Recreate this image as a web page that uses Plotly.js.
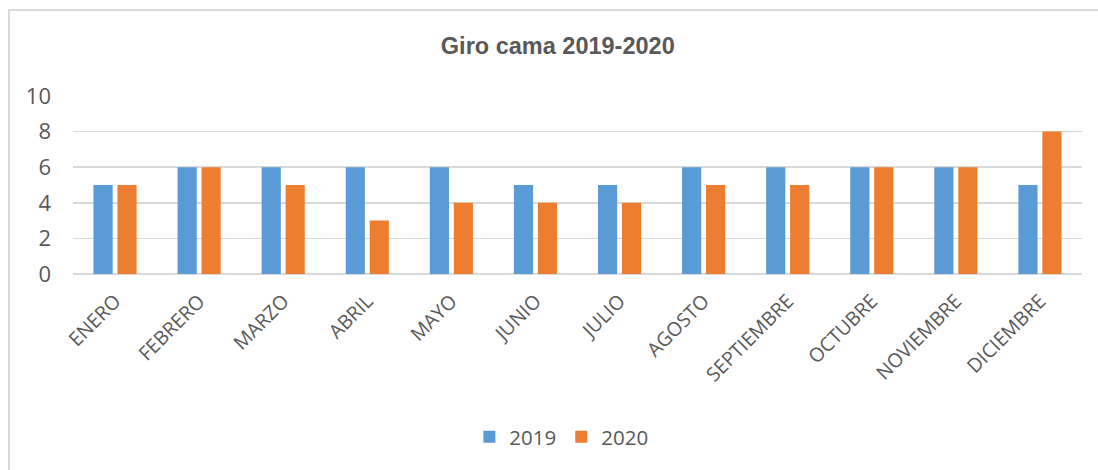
<!DOCTYPE html>
<html>
<head>
<meta charset="utf-8">
<script src="https://cdn.plot.ly/plotly-3.0.1.min.js"></script>
<style>
  html, body { margin: 0; padding: 0; background: #ffffff; overflow: hidden; }
  #frame { position: absolute; left: 8px; top: 9px; width: 1200px; height: 600px;
           border-left: 2px solid #d9d9d9; border-top: 2px solid #d9d9d9; }
  #chart { position: absolute; left: 0; top: 0; width: 1098px; height: 470px; }
</style>
</head>
<body>
<div id="frame"></div>
<div id="chart"></div>
<script>
const months = ["ENERO", "FEBRERO", "MARZO", "ABRIL", "MAYO", "JUNIO", "JULIO",
                "AGOSTO", "SEPTIEMBRE", "OCTUBRE", "NOVIEMBRE", "DICIEMBRE"];
const values2019 = [5, 6, 6, 6, 6, 5, 5, 6, 6, 6, 6, 5];
const values2020 = [5, 6, 5, 3, 4, 4, 4, 5, 5, 6, 6, 8];
const yTicks = [0, 2, 4, 6, 8, 10];

const textColor = "#595959";
const tickFont = "Open Sans, Noto Sans, sans-serif";

const traces = [
  { type: "bar", name: "2019", x: months, y: values2019,
    marker: { color: "#5b9bd5" }, hoverinfo: "x+y+name" },
  { type: "bar", name: "2020", x: months, y: values2020,
    marker: { color: "#ed7d31" }, hoverinfo: "x+y+name" }
];

const layout = {
  width: 1098, height: 470,
  paper_bgcolor: "rgba(0,0,0,0)",
  plot_bgcolor: "rgba(0,0,0,0)",
  margin: { l: 73, r: 16, t: 96, b: 196 },
  barmode: "group",
  bargap: 0.43,
  bargroupgap: 0.2,
  title: {
    text: "Giro cama 2019-2020",
    font: { family: "Liberation Sans, Arial, sans-serif", size: 23.5, color: textColor, weight: "bold" },
    x: 0.508, xanchor: "center", xref: "container",
    y: 0.902, yanchor: "middle", yref: "container"
  },
  xaxis: {
    type: "category",
    tickangle: -45,
    tickfont: { family: tickFont, size: 19.5, color: textColor },
    showgrid: false, showline: false, zeroline: false,
    ticks: "", ticklabelstandoff: 11
  },
  yaxis: {
    range: [0, 10],
    tickvals: yTicks,
    ticktext: yTicks.map(String),
    tickfont: { family: tickFont, size: 22, color: textColor },
    showgrid: true, gridcolor: "#d9d9d9", gridwidth: 1.5,
    zeroline: true, zerolinecolor: "#d9d9d9", zerolinewidth: 1.5,
    showline: false, ticks: "", ticklabelstandoff: 21
  },
  showlegend: true,
  legend: {
    orientation: "h", x: 0.484, xanchor: "center", y: -0.915, yanchor: "middle",
    font: { family: tickFont, size: 20.5, color: textColor },
    itemwidth: 30, traceorder: "normal"
  }
};

Plotly.newPlot("chart", traces, layout, { displayModeBar: false, staticPlot: true });
</script>
</body>
</html>
